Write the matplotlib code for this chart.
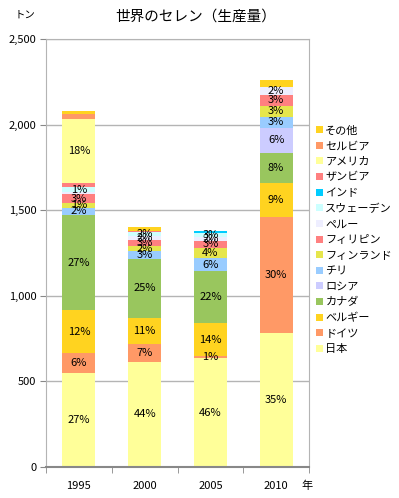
import matplotlib
matplotlib.use("Agg")
import matplotlib.pyplot as plt
import numpy as np

plt.rcParams['font.family'] = ['Noto Sans CJK JP', 'DejaVu Sans']

years = ["1995", "2000", "2005", "2010"]

# series, bottom to top (tons)
countries = ["日本", "ドイツ", "ベルギー", "カナダ", "ロシア", "チリ", "フィンランド",
             "フィリピン", "ペルー", "スウェーデン", "インド", "ザンビア", "アメリカ",
             "セルビア", "その他"]
japan = [550, 616, 635, 785]
germany = [115, 100, 12, 675]
belgium = [250, 155, 195, 200]
canada = [555, 345, 300, 175]
russia = [0, 0, 0, 145]
chile = [45, 45, 80, 65]
finland = [25, 28, 60, 65]
philippines = [55, 38, 40, 65]
peru = [10, 22, 23, 45]
sweden = [30, 22, 20, 0]
india = [0, 0, 12, 0]
zambia = [25, 8, 0, 0]
usa = [370, 0, 0, 0]
serbia = [30, 0, 0, 0]
other = [20, 20, 0, 40]

# data labels as shown on the chart ('' = no label)
labels = [
    ["27%", "44%", "46%", "35%"],
    ["6%", "7%", "1%", "30%"],
    ["12%", "11%", "14%", "9%"],
    ["27%", "25%", "22%", "8%"],
    ["", "", "", "6%"],
    ["2%", "3%", "6%", "3%"],
    ["1%", "2%", "4%", "3%"],
    ["3%", "3%", "3%", "3%"],
    ["", "2%", "2%", "2%"],
    ["1%", "2%", "3%", ""],
    ["", "", "", ""],
    ["", "", "", ""],
    ["18%", "", "", ""],
    ["", "", "", ""],
    ["", "", "", ""],
]

colors = ["#FFFF99", "#FF9966", "#FFD320", "#99C65E", "#CCCCFF", "#99CCFF", "#E6E64C",
          "#FF8080", "#EEEEFF", "#CCFFFF", "#00CCFF", "#FF8080", "#FFFF99",
          "#FF9966", "#FFD320"]

series = [japan, germany, belgium, canada, russia, chile, finland, philippines,
          peru, sweden, india, zambia, usa, serbia, other]

fig = plt.figure(figsize=(3.99, 4.98), dpi=100)
ax = fig.add_axes([46 / 399, 31 / 498, 263 / 399, 428 / 498])

x = np.arange(len(years))
bottom = np.zeros(len(years))
handles = []
for name, vals, col, labs in zip(countries, series, colors, labels):
    vals = np.array(vals, dtype=float)
    b = ax.bar(x, vals, 0.5, bottom=bottom, color=col, label=name, zorder=2)
    handles.append(b)
    for i, lab in enumerate(labs):
        if lab:
            ax.text(x[i], bottom[i] + vals[i] / 2, lab, ha="center", va="center",
                    fontsize=8, zorder=3)
    bottom += vals

ax.set_xlim(-0.5, 3.5)
ax.set_ylim(0, 2500)
ax.set_yticks(np.arange(0, 2501, 500))
ax.set_yticklabels(["0", "500", "1,000", "1,500", "2,000", "2,500"], fontsize=8)
ax.yaxis.grid(True, color="#B4B4B4", linewidth=1, zorder=0)
ax.set_axisbelow(True)
ax.set_xticks(x)
ax.set_xticklabels(years, fontsize=8)
ax.tick_params(axis="x", length=0, pad=10)
ax.set_xticks(np.arange(-0.5, 4, 1), minor=True)
ax.tick_params(axis="x", which="minor", length=4, color="#888888")
ax.tick_params(axis="y", length=4, color="#888888", pad=3)
for s in ["left", "right", "top"]:
    ax.spines[s].set_color("#B4B4B4")
ax.spines["bottom"].set_color("#888888")
ax.spines["bottom"].set_linewidth(1.5)

fig.text(196 / 399, 1 - 17 / 498, "世界のセレン（生産量）", ha="center", va="center", fontsize=10.5)
fig.text(15 / 399, 1 - 15 / 498, "トン", ha="left", va="center", fontsize=7.5)
fig.text(307 / 399, 1 - 486 / 498, "年", ha="center", va="center", fontsize=8)

fig.legend(handles[::-1], countries[::-1], loc="upper left",
           bbox_to_anchor=(312 / 399, 1 - 121 / 498), frameon=False,
           fontsize=8, handlelength=0.6, handleheight=0.6, handletextpad=0.2,
           labelspacing=0.5, borderaxespad=0)

fig.savefig("out.png", dpi=100)
